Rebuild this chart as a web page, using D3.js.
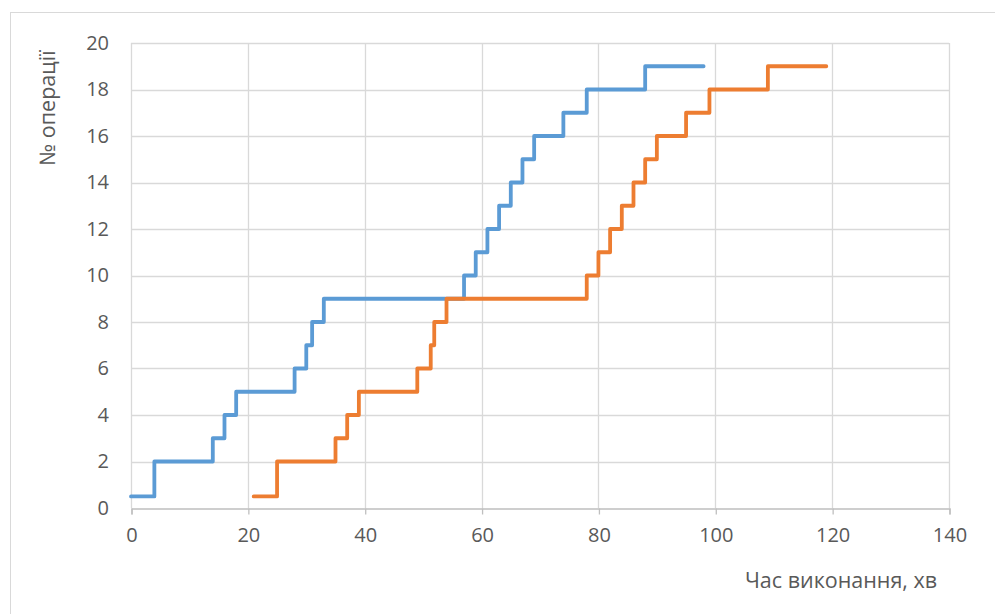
<!DOCTYPE html>
<html>
<head>
<meta charset="utf-8">
<script src="https://cdn.jsdelivr.net/npm/d3@7"></script>
<style>
  html, body { margin: 0; padding: 0; background: #fff; }
  svg { display: block; }
  text { font-family: "Open Sans", "Noto Sans", sans-serif; fill: #595959; }
</style>
</head>
<body>
<svg id="chart" width="995" height="614"></svg>
<script>
// Step series: time (min) where each operation level begins, and the level
const blueTime = [0, 4, 14, 16, 18, 28, 30, 31, 33, 57, 59, 61, 63, 65, 67, 69, 74, 78, 88, 98];
const blueOp   = [0.5, 2, 3, 4, 5, 6, 7, 8, 9, 10, 11, 12, 13, 14, 15, 16, 17, 18, 19, 19];
const orangeTime = [21, 25, 35, 37, 39, 49, 51.3, 51.9, 54, 78, 80, 82, 84, 86, 88, 90, 95, 99, 109, 119];
const orangeOp   = [0.5, 2, 3, 4, 5, 6, 7, 8, 9, 10, 11, 12, 13, 14, 15, 16, 17, 18, 19, 19];

const xTicks = [0, 20, 40, 60, 80, 100, 120, 140];
const yTicks = [0, 2, 4, 6, 8, 10, 12, 14, 16, 18, 20];
const xTitle = "Час виконання, хв";
const yTitle = "№ операції";

const svg = d3.select("#chart");
const fontStack = "'Open Sans', 'Noto Sans', sans-serif";

// outer chart frame
svg.append("rect")
  .attr("x", 10.5).attr("y", 12.5)
  .attr("width", 1000).attr("height", 700)
  .attr("fill", "#fff").attr("stroke", "#d9d9d9").attr("stroke-width", 1);

const x = d3.scaleLinear().domain([0, 140]).range([131, 949]);
const y = d3.scaleLinear().domain([0, 20]).range([508, 43]);

// gridlines
const grid = svg.append("g");
grid.selectAll("line.v").data(xTicks).join("line")
  .attr("x1", d => Math.round(x(d)) + 0.5).attr("x2", d => Math.round(x(d)) + 0.5)
  .attr("y1", y(20)).attr("y2", y(0))
  .attr("stroke", "#d9d9d9").attr("stroke-width", 1.3);
grid.selectAll("line.h").data(yTicks.filter(d => d > 0)).join("line")
  .attr("x1", x(0)).attr("x2", x(140))
  .attr("y1", d => Math.round(y(d)) + 0.5).attr("y2", d => Math.round(y(d)) + 0.5)
  .attr("stroke", "#d9d9d9").attr("stroke-width", 1.3);

// x axis with outward ticks
const xAxis = d3.axisBottom(x).tickValues(xTicks).tickSize(6).tickPadding(13);
const gx = svg.append("g")
  .attr("transform", `translate(0.5,${Math.round(y(0)) + 0.5})`)
  .call(xAxis);
gx.select(".domain").attr("stroke", "#bfbfbf").attr("stroke-width", 1.3);
gx.selectAll(".tick line").attr("stroke", "#bfbfbf").attr("stroke-width", 1.3);
gx.selectAll(".tick text")
  .attr("font-size", 20).attr("fill", "#595959")
  .style("font-family", fontStack);

// y axis labels only
const yAxis = d3.axisLeft(y).tickValues(yTicks).tickSize(0).tickPadding(22);
const gy = svg.append("g")
  .attr("transform", `translate(${x(0)},0)`)
  .call(yAxis);
gy.select(".domain").remove();
gy.selectAll(".tick text")
  .attr("font-size", 20).attr("fill", "#595959")
  .style("font-family", fontStack);

// step lines
const line = d3.line()
  .x(d => x(d[0]))
  .y(d => y(d[1]))
  .curve(d3.curveStepAfter);

const series = [
  { time: blueTime, op: blueOp, color: "#5b9bd5" },
  { time: orangeTime, op: orangeOp, color: "#ed7d31" }
];

svg.append("g").selectAll("path").data(series).join("path")
  .attr("d", s => line(s.time.map((t, i) => [t, s.op[i]])))
  .attr("fill", "none")
  .attr("stroke", s => s.color)
  .attr("stroke-width", 3.8)
  .attr("stroke-linejoin", "round")
  .attr("stroke-linecap", "round");

// axis titles
svg.append("text")
  .attr("x", 841).attr("y", 588)
  .attr("text-anchor", "middle")
  .attr("font-size", 21.5)
  .text(xTitle);

svg.append("text")
  .attr("transform", "translate(55,108) rotate(-90)")
  .attr("text-anchor", "middle")
  .attr("font-size", 21.5)
  .text(yTitle);
</script>
</body>
</html>
